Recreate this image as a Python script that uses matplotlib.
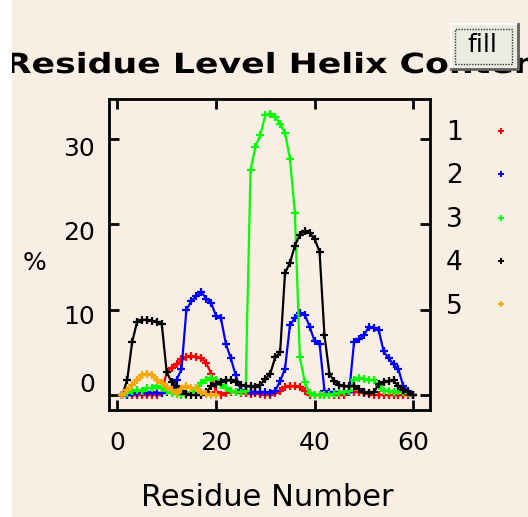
import numpy as np
import matplotlib
matplotlib.use("Agg")
import matplotlib.pyplot as plt
from matplotlib.lines import Line2D
from matplotlib.patches import Rectangle
from matplotlib.patheffects import AbstractPathEffect
from matplotlib.transforms import Affine2D, ScaledTranslation

# ---------------- data ----------------
residues = list(range(1, 61))
series_labels = ["1", "2", "3", "4", "5"]
series_colors = ["#ff0000", "#0000ff", "#00ff00", "#000000", "#ffa500"]

helix_1 = [0, 0, 0, 0, 0, 0, 0, 0, 0.2,
           2.7, 3.2, 3.6, 4.2, 4.5, 4.6, 4.5, 4.3, 3.8, 2.5, 0.3,
           0, 0.2, 0.4, 0.3, 0.2, 0.2, 0.1, 0.2, 0.1, 0,
           0, 0.2, 0.5, 0.9, 1.0, 1.0, 0.9, 0.5, 0, 0,
           0, 0, 0, 0, 0, 0, 0.3, 0.4, 0.3, 0.2,
           0.1, 0, 0, 0, 0, 0, 0, 0, 0, 0]
helix_2 = [0, 0, 0.2, 0.2, 0.3, 0.2, 0.3, 0.2, 0.2, 0.3,
           0.8, 1.8, 3.0, 10.0, 11.0, 11.6, 12.1, 11.3, 10.8, 9.3,
           9.0, 6.0, 4.3, 2.3, 0.6, 0.5, 0.4, 0.3, 0.3, 0.3,
           0.2, 0.5, 1.6, 3.1, 8.2, 9.0, 9.6, 9.4, 8.0, 6.3,
           6.0, 0.5, 0.3, 0.3, 0.3, 0.3, 0.3, 6.2, 6.6, 7.0,
           8.0, 7.8, 7.6, 5.1, 4.3, 3.6, 3.0, 1.0, 0.5, 0]
helix_3 = [0, 0.2, 0.5, 0.6, 0.5, 0.8, 0.8, 1.0, 0.8, 0.5,
           0.2, 0.1, 0, 0, 0.3, 0.8, 1.4, 1.8, 2.0, 1.8,
           1.2, 0.8, 0.5, 0.4, 0.3, 0.5, 26.4, 29.1, 30.5, 32.8,
           32.9, 32.6, 31.8, 30.7, 27.7, 21.3, 4.5, 1.5, 0.2, 0,
           0, 0, 0, 0.1, 0.2, 0.3, 0.5, 1.8, 2.0, 1.9,
           1.8, 1.7, 1.0, 0.5, 0.5, 0.4, 0.5, 0.4, 0.2, 0]
helix_4 = [0, 1.8, 6.2, 8.6, 8.8, 8.8, 8.7, 8.6, 8.3, 2.7,
           1.5, 1.0, 0.5, 0.1, 0, 0, 0, 0.3, 1.0, 1.3,
           1.5, 1.7, 1.7, 1.5, 1.2, 1.0, 1.0, 0.9, 1.2, 1.9,
           2.5, 4.4, 5.0, 14.3, 15.5, 17.5, 18.8, 19.2, 19.0, 18.3,
           16.8, 7.0, 2.5, 1.6, 1.2, 1.0, 1.0, 1.1, 0.7, 0.4,
           0.2, 0.3, 1.3, 1.5, 1.6, 1.7, 1.0, 0.6, 0.3, 0]
helix_5 = [0, 0.6, 1.2, 1.8, 2.3, 2.5, 2.3, 1.8, 1.4, 0.9,
           0.6, 0.2, 0.7, 1.0, 0.8, 0.8, 0.3, 0.1, 0, 0]
series_values = [helix_1, helix_2, helix_3, helix_4, helix_5]

x_ticks = [0, 20, 40, 60]
y_ticks = [0, 10, 20, 30]
title_text = "Residue Level Helix Content"
x_label = "Residue Number"
y_label = "%"
button_text = "fill"

# ---------------- figure ----------------
W, H = 528, 517
DPI = 100
BG = "#f9eee4"
fig = plt.figure(figsize=(W / DPI, H / DPI), dpi=DPI, facecolor=BG)
plt.rcParams['font.family'] = ['DejaVu Sans']


def fx(px):
    return px / W


def fy(py):
    return 1 - py / H


L, R, T, B = 109, 430, 99, 410
ax = fig.add_axes([fx(L), fy(B), fx(R) - fx(L), fy(T) - fy(B)])
ax.set_facecolor(BG)

for vals, col in zip(series_values, series_colors):
    ax.plot(residues[:len(vals)], vals, color=col, lw=1.6, marker='+',
            ms=6, mew=1.6, clip_on=True)

ax.set_xlim(-1.7, 63.4)
ax.set_ylim(-1.76, 34.7)
ax.set_xticks(x_ticks)
ax.set_yticks(y_ticks)
for s in ax.spines.values():
    s.set_linewidth(2.0)
ax.tick_params(direction='in', length=7, width=2, top=True, right=True,
               labelsize=18, colors='black')
ax.tick_params(axis='x', pad=15)
ax.tick_params(axis='y', pad=10)

# vertical label offsets as in the reference
offs = {30: -7, 20: -6, 10: -5, 0: 12}
for lab, v in zip(ax.get_yticklabels(), y_ticks):
    lab.set_transform(lab.get_transform() +
                      ScaledTranslation(0, offs[v] / DPI, fig.dpi_scale_trans))

ax.set_xlabel(x_label, fontsize=22, va='center')
ax.xaxis.set_label_coords((267 - L) / (R - L), (B - 497) / (B - T))
ax.set_ylabel(y_label, fontsize=18, rotation=0, va='center', ha='center')
ax.yaxis.set_label_coords((35 - L) / (R - L), (B - 263) / (B - T))

# legend (label then marker)
handles = [Line2D([], [], color=c, marker='+', ls='none', ms=5, mew=1.4)
           for c in series_colors]
leg = fig.legend(handles, series_labels, loc='upper left',
                 bbox_to_anchor=(fx(446), fy(120)), frameon=False,
                 markerfirst=False, fontsize=19, labelspacing=0.66,
                 handlelength=0.9, handletextpad=1.0, borderpad=0,
                 borderaxespad=0)


# title with horizontal stretch
class HStretch(AbstractPathEffect):
    def __init__(self, sx, cx):
        super().__init__()
        self.sx = sx
        self.cx = cx

    def draw_path(self, renderer, gc, tpath, affine, rgbFace=None):
        t = affine + Affine2D().translate(-self.cx, 0).scale(self.sx, 1).translate(self.cx, 0)
        renderer.draw_path(gc, tpath, t, rgbFace)


title_cx = 280
fig.text(fx(title_cx), fy(73), title_text, ha='center', va='baseline',
         fontsize=20, fontweight='bold', color='black',
         path_effects=[HStretch(1.25, title_cx)])

# "fill" button (covers the end of the title, as in the reference)
bx0, by0, bx1, by1 = 451, 24, 518, 69
fig.add_artist(Rectangle((fx(bx0), fy(by1)), fx(bx1) - fx(bx0), fy(by0) - fy(by1),
                         transform=fig.transFigure, facecolor="#ecebe0",
                         edgecolor='none', zorder=5))
fig.add_artist(Line2D([fx(bx0), fx(bx0), fx(bx1)], [fy(by1), fy(by0), fy(by0)],
                      transform=fig.transFigure, color='white', lw=1.5, zorder=6))
fig.add_artist(Line2D([fx(bx0), fx(bx1), fx(bx1)], [fy(by1), fy(by1), fy(by0)],
                      transform=fig.transFigure, color='#606060', lw=2, zorder=6))
fig.add_artist(Rectangle((fx(455), fy(64)), fx(512) - fx(455), fy(29) - fy(64),
                         transform=fig.transFigure, facecolor='none',
                         edgecolor='#333333', lw=1, ls=(0, (1, 1)), zorder=6))
fig.text(fx(482), fy(45), button_text, ha='center', va='center',
         fontsize=18, color='black', zorder=7)

# white strip at left edge
fig.add_artist(Rectangle((0, 0), fx(12), 1, transform=fig.transFigure,
                         facecolor='white', edgecolor='none', zorder=10))

fig.savefig("out.png", dpi=DPI, facecolor=BG)
